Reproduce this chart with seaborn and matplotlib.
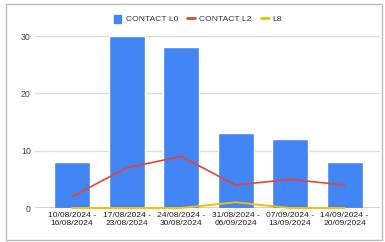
import matplotlib
matplotlib.use("Agg")
import matplotlib.pyplot as plt
import seaborn as sns
import pandas as pd
import numpy as np
from matplotlib.patches import Rectangle
from matplotlib.lines import Line2D

categories = ["10/08/2024 -\n16/08/2024", "17/08/2024 -\n23/08/2024", "24/08/2024 -\n30/08/2024",
              "31/08/2024 -\n06/09/2024", "07/09/2024 -\n13/09/2024", "14/09/2024 -\n20/09/2024"]
contact_l0 = [8, 30, 28, 13, 12, 8]
contact_l2 = [2, 7, 9, 4, 5, 4]
l8 = [0, 0, 0, 1, 0, 0]
yticks = [0, 10, 20, 30]

sns.set_theme(style="white")
plt.rcParams['font.family'] = ['Liberation Sans', 'DejaVu Sans']

BLUE = "#4285F4"
RED = "#EA4335"
YELLOW = "#FBBC04"

fig = plt.figure(figsize=(3.85, 2.42), dpi=100)
ax = fig.add_axes([35/385, 1-208/242, (380-35)/385, (208-36)/242])

df = pd.DataFrame({"cat": categories, "L0": contact_l0, "L2": contact_l2, "L8": l8})
sns.barplot(data=df, x="cat", y="L0", color=BLUE, saturation=1, width=0.66, ax=ax, zorder=2)
idx = np.arange(len(categories))
ax.axhline(0, color="#333333", lw=1, zorder=2.5)
sns.lineplot(x=idx, y=contact_l2, color=RED, lw=1.2, ax=ax, zorder=3)
sns.lineplot(x=idx, y=l8, color=YELLOW, lw=1.4, ax=ax, zorder=3, clip_on=False)

ax.set_xlim(-0.68, 5.65)
ax.set_ylim(0, 30)
ax.set_yticks(yticks)
ax.set_yticklabels([str(v) for v in yticks], fontsize=6.3, color="#444444")
ax.set_xticks(idx)
ax.set_xticklabels(categories, fontsize=6.1, color="#222222", linespacing=1.15)
ax.tick_params(axis="both", length=0, pad=3)
ax.set_xlabel("")
ax.set_ylabel("")
for s in ax.spines.values():
    s.set_visible(False)
ax.grid(axis="y", color="#dddddd", lw=1, zorder=0)
ax.set_axisbelow(True)

handles = [Rectangle((0, 0), 1, 1, color=BLUE),
           Line2D([0], [0], color=RED, lw=2),
           Line2D([0], [0], color=YELLOW, lw=2)]
fig.legend(handles, ["CONTACT L0", "CONTACT L2", "L8"], loc="center", bbox_to_anchor=(198/385, 1-19/242),
           ncol=3, frameon=False, fontsize=6.1, handlelength=0.9, handleheight=1.1,
           columnspacing=1.1, handletextpad=0.5, labelcolor="#333333")

fig.patches.append(Rectangle((6/385, 2/242), (382-6)/385, (238-2)/242, transform=fig.transFigure,
                             fill=False, edgecolor="#bbbbbb", lw=1))

fig.savefig("out.png", dpi=100)
